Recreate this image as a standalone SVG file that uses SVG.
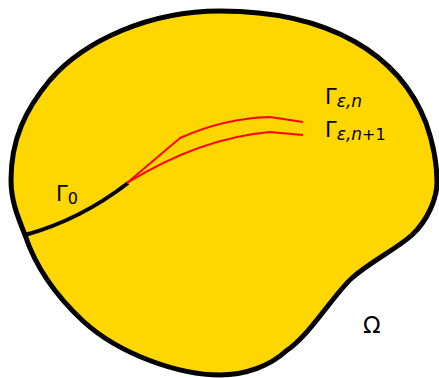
<svg xmlns="http://www.w3.org/2000/svg" width="439" height="378" viewBox="0 0 439 378">
<style>
.t{font-family:"DejaVu Sans",sans-serif;fill:#000}
.m{font-size:21px}
.s{font-size:17px}
.d{font-size:16px}
.i{font-style:italic}
</style>
<rect width="439" height="378" fill="#fff"/>
<g id="omega">
<path d="M220,11 C330,11 400,55 426,123 C432,140 437,160 437,182 C437,198 428,220 412,235 C395,250 370,262 352,278 C334,294 310,335 286,351 C270,366 245,375 220,375 C180,375 120,355 83,321 C55,295 35,265 25,235 C17,215 11,200 11,180 C11,140 25,110 50,80 C85,40 150,11 220,11 Z" fill="#FFD700" stroke="#000" stroke-width="5"/>
</g>
<g id="connectors" fill="none">
<path id="gamma0" d="M25,235 Q80,220 128,183" stroke="#000" stroke-width="4"/>
<path id="gamma-n" d="M127,183 L180,138 Q225,118 270,117 L303,122" stroke="#f00" stroke-width="2"/>
<path id="gamma-n1" d="M127,183 Q200,138 270,132 L303,135" stroke="#f00" stroke-width="2"/>
</g>
<g id="label-gamma-n"><text class="t m" x="325" y="104">Γ<tspan class="s i" dy="3">ε,n</tspan></text></g>
<g id="label-gamma-n1"><text class="t m" x="325" y="137">Γ<tspan class="s i" dy="3">ε,n</tspan><tspan class="d">+1</tspan></text></g>
<g id="label-gamma0"><text class="t m" x="56" y="201">Γ<tspan class="d" dy="3">0</tspan></text></g>
<g id="label-omega"><text class="t" font-size="23" x="363" y="333">Ω</text></g>
</svg>
